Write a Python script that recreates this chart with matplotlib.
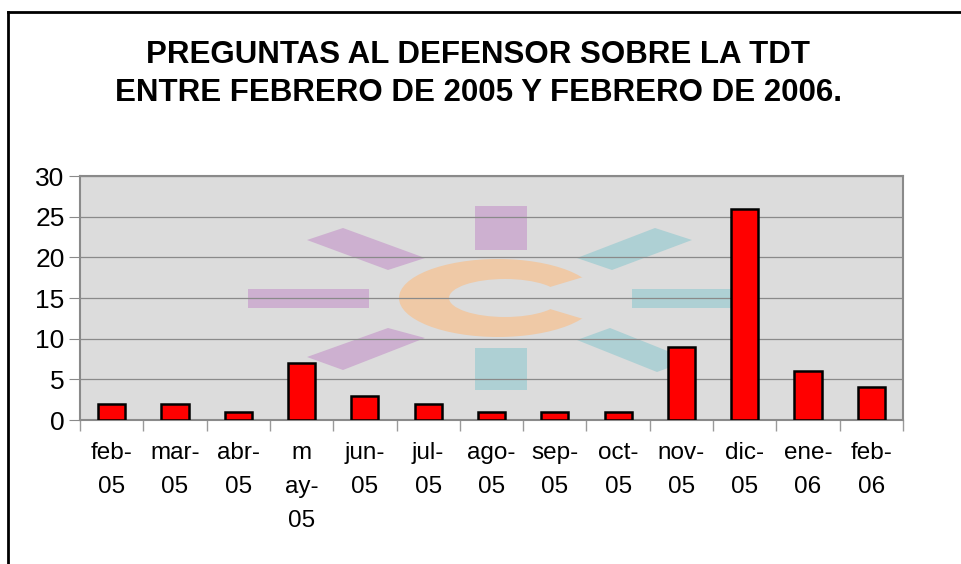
import matplotlib.pyplot as plt
from matplotlib.patches import Polygon, Ellipse
from matplotlib.lines import Line2D
import numpy as np

plt.rcParams['font.family'] = ['Liberation Sans', 'DejaVu Sans']

meses = ["feb-\n05", "mar-\n05", "abr-\n05", "m\nay-\n05", "jun-\n05", "jul-\n05",
         "ago-\n05", "sep-\n05", "oct-\n05", "nov-\n05", "dic-\n05", "ene-\n06", "feb-\n06"]
preguntas = [2, 2, 1, 7, 3, 2, 1, 1, 1, 9, 26, 6, 4]
titulo = "PREGUNTAS AL DEFENSOR SOBRE LA TDT\nENTRE FEBRERO DE 2005 Y FEBRERO DE 2006."

W, H = 962, 564
fig = plt.figure(figsize=(W / 100, H / 100), dpi=100)
fig.patch.set_facecolor('white')

# plot area in pixels: x 80..903, y 176..420
x0, x1, y0, y1 = 80, 903, 176, 420
ax = fig.add_axes([x0 / W, 1 - y1 / H, (x1 - x0) / W, (y1 - y0) / H])
ax.set_facecolor('#dcdcdc')

# faded watermark logo, placed in axes fraction
def px(x, y):
    return ((x - x0) / (x1 - x0), (y1 - y) / (y1 - y0))

purple = '#cdb0d0'
teal = '#aed0d4'
orange = '#efc9a6'
tr = ax.transAxes

def poly(pts, c):
    ax.add_patch(Polygon([px(*p) for p in pts], closed=True, transform=tr,
                         facecolor=c, edgecolor='none', zorder=1))

poly([(475, 206), (527, 206), (527, 250), (475, 250)], purple)
poly([(475, 348), (527, 348), (527, 390), (475, 390)], teal)
poly([(248, 289), (369, 289), (369, 308), (248, 308)], purple)
poly([(632, 289), (745, 289), (745, 308), (632, 308)], teal)
poly([(307, 240), (343, 228), (425, 258), (388, 270)], purple)
poly([(307, 357), (388, 328), (425, 338), (343, 370)], purple)
poly([(577, 258), (655, 228), (692, 240), (612, 270)], teal)
poly([(577, 340), (610, 328), (690, 360), (657, 372)], teal)

# the "C" ring
ax.add_patch(Ellipse(px(498, 298), 198 / (x1 - x0), 78 / (y1 - y0), transform=tr,
                     facecolor=orange, edgecolor='none', zorder=1))
ax.add_patch(Ellipse(px(505, 298), 112 / (x1 - x0), 38 / (y1 - y0), transform=tr,
                     facecolor='#dcdcdc', edgecolor='none', zorder=1))
poly([(540, 290), (600, 272), (600, 324), (540, 306)], '#dcdcdc')

x = np.arange(len(meses))
ax.bar(x, preguntas, width=0.43, color='#ff0000', edgecolor='black',
       linewidth=1.8, zorder=3)

ax.set_xlim(-0.5, len(meses) - 0.5)
ax.set_ylim(0, 30)
ax.set_yticks(range(0, 31, 5))
ax.yaxis.grid(True, color='#8a8a8a', linewidth=0.9)
for g in ax.get_ygridlines():
    g.set_zorder(2)

ax.set_xticks(x)
ax.set_xticklabels(meses, fontsize=17.5, linespacing=1.7, va='top')
ax.tick_params(axis='x', which='major', length=0, pad=16)
ax.set_xticks(np.arange(-0.5, len(meses)), minor=True)
ax.tick_params(axis='x', which='minor', length=8, color='#9a9a9a', width=1)
ax.tick_params(axis='y', length=8, color='#8a8a8a', labelsize=19, pad=3)

for s in ax.spines.values():
    s.set_color('#8a8a8a')
    s.set_linewidth(1.5)

fig.text(0.497, 1 - 74 / H, titulo, ha='center', va='center', fontsize=22.5,
         fontweight='bold', linespacing=1.32)

# outer frame (cut by the image edges)
fig.add_artist(Line2D([8 / W, 8 / W], [0, 1 - 12 / H], color='black', linewidth=2))
fig.add_artist(Line2D([8 / W, 1], [1 - 12 / H, 1 - 12 / H], color='black', linewidth=2))

fig.savefig('out.png', dpi=100)
